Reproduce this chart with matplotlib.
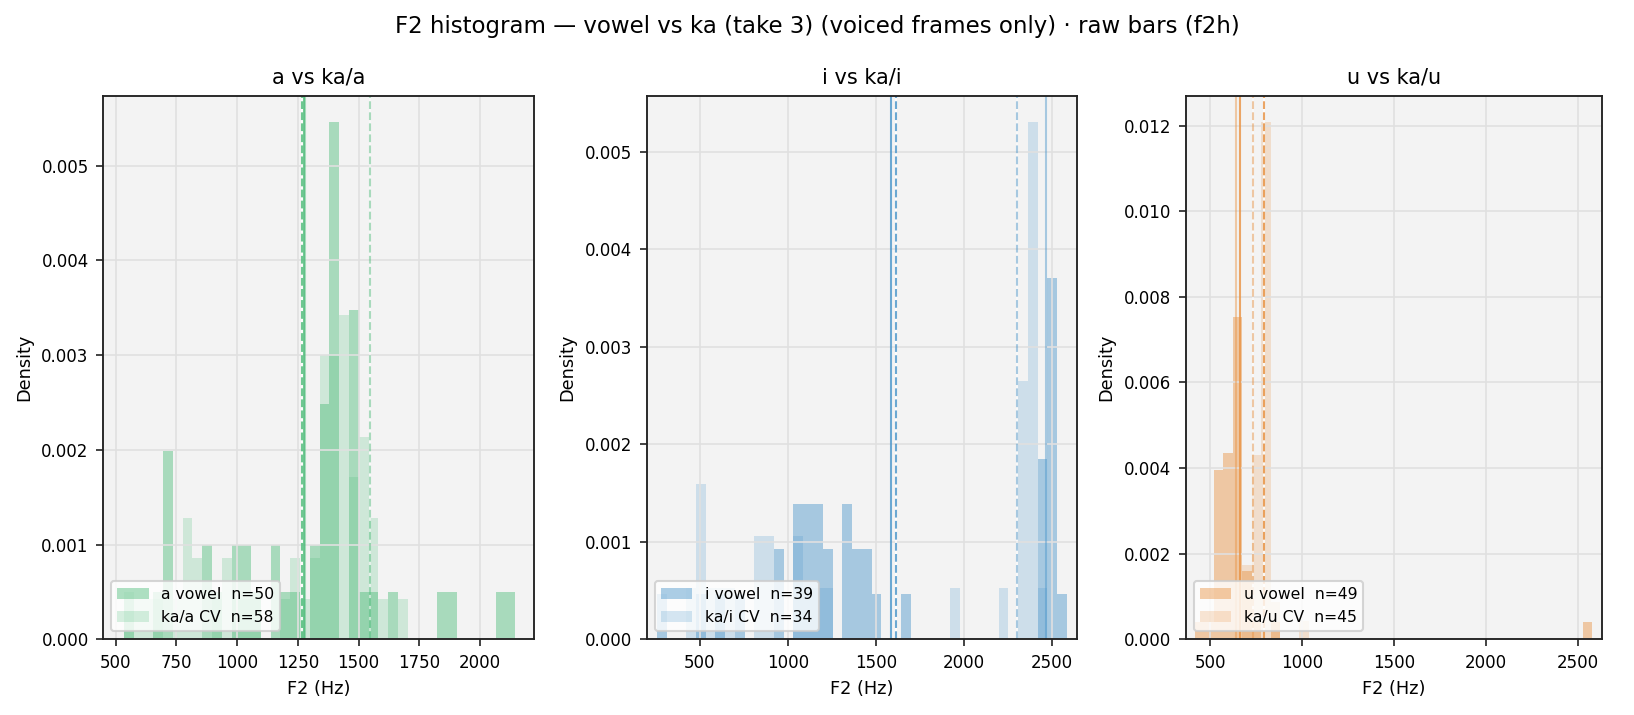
import numpy as np
import matplotlib
matplotlib.use("Agg")
import matplotlib.pyplot as plt

# ---------------- data ----------------
suptitle = "F2 histogram \u2014 vowel vs ka (take 3) (voiced frames only) \u00b7 raw bars (f2h)"
vowels = ["a", "i", "u"]
titles = ["a vs ka/a", "i vs ka/i", "u vs ka/u"]
colors = ["#4ebd7a", "#4995ca", "#e99242"]

# shared bin edges per panel (lo, hi, number of bins)
a_bins = (534.0, 2145.0, 40)
i_bins = (256.0, 2585.0, 42)
u_bins = (417.0, 2579.0, 42)

# counts per bin
a_vowel_counts = [1, 0, 0, 1, 4, 0, 0, 0, 2, 1, 0, 2, 2, 1, 0, 2, 1, 1, 0, 2,
                  5, 11, 0, 7, 1, 1, 0, 1, 0, 0, 0, 0, 1, 1, 0, 0, 0, 0, 1, 1]
a_cv_counts = [1, 1, 1, 1, 0, 1, 3, 2, 0, 1, 2, 1, 1, 1, 0, 0, 1, 2, 1, 2,
               7, 7, 8, 4, 5, 3, 1, 0, 1, 0, 0, 0, 0, 0, 0, 0, 0, 0, 0, 0]
i_vowel_counts = [1, 0, 0, 0, 1, 0, 1, 0, 1, 0, 0, 0, 2, 0, 3, 3, 3, 2, 0, 3, 2,
                  2, 1, 0, 0, 1, 0, 0, 0, 0, 0, 0, 0, 0, 0, 0, 0, 0, 0, 4, 8, 1]
i_cv_counts = [0, 0, 0, 1, 3, 1, 1, 1, 0, 0, 2, 2, 0, 0, 2, 1, 1, 1, 0, 0, 0,
               0, 0, 0, 0, 0, 0, 0, 0, 0, 1, 0, 0, 0, 0, 1, 0, 5, 10, 1, 0, 0]
u_vowel_counts = [1, 1, 10, 11, 19, 4, 1, 0, 1, 0, 0, 0, 0, 0, 0, 0, 0, 0, 0, 0, 0,
                  0, 0, 0, 0, 0, 0, 0, 0, 0, 0, 0, 0, 0, 0, 0, 0, 0, 0, 0, 0, 1]
u_cv_counts = [0, 0, 0, 0, 0, 4, 10, 28, 2, 0, 0, 1, 0, 0, 0, 0, 0, 0, 0, 0, 0,
               0, 0, 0, 0, 0, 0, 0, 0, 0, 0, 0, 0, 0, 0, 0, 0, 0, 0, 0, 0, 0]

n_vowel = [50, 39, 49]
n_cv = [58, 34, 45]

# reference lines (Hz): vowel solid, vowel dashed, CV solid, CV dashed
vowel_solid = [1276, 1586, 660]
vowel_dashed = [1266, 1613, 790]
cv_solid = [1280, 2466, 642]
cv_dashed = [1547, 2299, 730]

xlims = [(449, 2222), (199, 2640), (366, 2632)]
xticks = [[500, 750, 1000, 1250, 1500, 1750, 2000],
          [500, 1000, 1500, 2000, 2500],
          [500, 1000, 1500, 2000, 2500]]
yticks = [[0.0, 0.001, 0.002, 0.003, 0.004, 0.005],
          [0.0, 0.001, 0.002, 0.003, 0.004, 0.005],
          [0.0, 0.002, 0.004, 0.006, 0.008, 0.010, 0.012]]

bins_all = [a_bins, i_bins, u_bins]
vowel_counts_all = [a_vowel_counts, i_vowel_counts, u_vowel_counts]
cv_counts_all = [a_cv_counts, i_cv_counts, u_cv_counts]

# ---------------- figure ----------------
W, H, DPI = 1634, 715, 150
fig = plt.figure(figsize=(W / DPI, H / DPI), dpi=DPI)
axes_px = [(103.3, 534.0), (646.7, 1076.7), (1185.7, 1602.0)]
top_px, bot_px = 96.0, 639.3

for k in range(3):
    l, r = axes_px[k]
    ax = fig.add_axes([l / W, 1 - bot_px / H, (r - l) / W, (bot_px - top_px) / H])
    ax.set_facecolor("#f3f3f3")
    lo, hi, nb = bins_all[k]
    edges = np.linspace(lo, hi, nb + 1)
    centers = 0.5 * (edges[:-1] + edges[1:])
    width = edges[1] - edges[0]
    vc = np.asarray(vowel_counts_all[k], float)
    cc = np.asarray(cv_counts_all[k], float)
    c = colors[k]
    p = vowels[k]
    ax.hist(centers, bins=edges, weights=vc / (n_vowel[k] * width), color=c,
            alpha=0.45, label=f"{p} vowel  n={n_vowel[k]}")
    ax.hist(centers, bins=edges, weights=cc / (n_cv[k] * width), color=c,
            alpha=0.22, label=f"ka/{p} CV  n={n_cv[k]}")
    ax.axvline(vowel_solid[k], color=c, alpha=0.8, lw=1.0)
    ax.axvline(vowel_dashed[k], color=c, alpha=0.8, lw=1.0, ls="--", gapcolor="white")
    ax.axvline(cv_solid[k], color=c, alpha=0.45, lw=1.0)
    ax.axvline(cv_dashed[k], color=c, alpha=0.45, lw=1.0, ls="--", gapcolor="white")
    ax.set_xlim(*xlims[k])
    ax.set_xticks(xticks[k])
    ax.set_yticks(yticks[k])
    ax.yaxis.set_major_formatter(matplotlib.ticker.FormatStrFormatter("%.3f"))
    ax.tick_params(labelsize=8, width=0.8, length=3.5, color="#222222")
    ax.grid(True, color="#e0e0e0", lw=0.8)
    for s in ax.spines.values():
        s.set_color("#222222")
        s.set_linewidth(0.9)
    ax.set_title(titles[k], fontsize=10)
    ax.set_xlabel("F2 (Hz)", fontsize=8.5)
    ax.set_ylabel("Density", fontsize=8.5)
    ax.legend(loc="lower left", fontsize=7.5, framealpha=0.8)

fig.suptitle(suptitle, fontsize=11, y=1 - 26 / H, va="center")
fig.savefig("out.png", dpi=DPI)
